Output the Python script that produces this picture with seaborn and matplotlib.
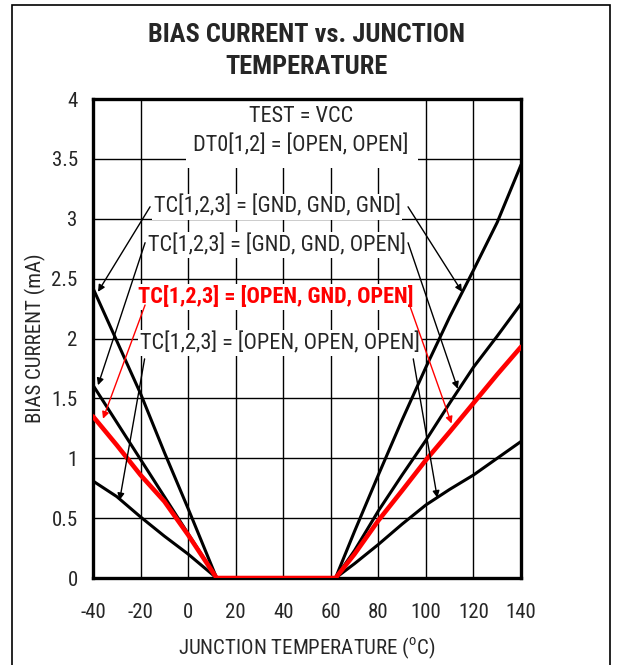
# ==========================================
# BIAS CURRENT vs. JUNCTION TEMPERATURE
# ==========================================

import numpy as np
import pandas as pd
import matplotlib
matplotlib.use('Agg')
import matplotlib.pyplot as plt
import matplotlib.patches as mpatches
import seaborn as sns

# ==========================================
# DATA
# ==========================================

temp = [-40, -30, -20, -10, 0, 12, 62, 70, 80, 90, 100, 110, 120, 130, 140]

gnd_gnd_gnd = [2.42, 1.98, 1.54, 1.05, 0.58, 0, 0, 0.39, 0.86, 1.32, 1.76, 2.18, 2.57, 2.97, 3.45]
gnd_gnd_open = [1.61, 1.30, 0.99, 0.68, 0.37, 0, 0, 0.23, 0.56, 0.86, 1.15, 1.46, 1.76, 2.02, 2.29]
open_gnd_open = [1.35, 1.11, 0.86, 0.64, 0.36, 0, 0, 0.20, 0.48, 0.73, 0.985, 1.22, 1.46, 1.70, 1.93]
open_open_open = [0.81, 0.68, 0.51, 0.35, 0.20, 0, 0, 0.12, 0.28, 0.45, 0.61, 0.74, 0.86, 1.00, 1.14]

labels = [
    'TC[1,2,3] = [GND, GND, GND]',
    'TC[1,2,3] = [GND, GND, OPEN]',
    'TC[1,2,3] = [OPEN, GND, OPEN]',
    'TC[1,2,3] = [OPEN, OPEN, OPEN]',
]

x_ticks = [-40, -20, 0, 20, 40, 60, 80, 100, 120, 140]
y_ticks = [0, 0.5, 1, 1.5, 2, 2.5, 3, 3.5, 4]
y_tick_labels = ['0', '0.5', '1', '1.5', '2', '2.5', '3', '3.5', '4']

# ==========================================
# STYLE
# ==========================================

sns.set_style('white')
plt.rcParams['font.family'] = ['Roboto Condensed', 'Archivo Narrow', 'Liberation Sans', 'DejaVu Sans']
plt.rcParams['axes.unicode_minus'] = False
plt.rcParams['mathtext.fontset'] = 'custom'
plt.rcParams['mathtext.rm'] = 'Roboto Condensed'

fig = plt.figure(figsize=(6.2, 6.65), dpi=100)
ax = fig.add_axes([0.15, 0.1308, 0.6903, 0.7203])

# ==========================================
# CURVES
# ==========================================

df = pd.DataFrame({
    'temp': temp,
    'c1': gnd_gnd_gnd,
    'c2': gnd_gnd_open,
    'c3': open_gnd_open,
    'c4': open_open_open,
})

for col in ['c1', 'c2', 'c4']:
    sns.lineplot(data=df, x='temp', y=col, color='black', lw=2.2, ax=ax, zorder=4)

sns.lineplot(data=df, x='temp', y='c3', color='#ff0000', lw=3.3, ax=ax, zorder=5)

# ==========================================
# AXES
# ==========================================

ax.set_xlim(-40, 140)
ax.set_ylim(0, 4)
ax.set_xticks(x_ticks)
ax.set_yticks(y_ticks)
ax.set_yticklabels(y_tick_labels)
ax.tick_params(length=0, labelsize=15)
ax.tick_params(axis='x', pad=18)
ax.tick_params(axis='y', pad=11)
ax.grid(True, color='black', lw=1.0, zorder=1)
ax.set_axisbelow(True)
for s in ax.spines.values():
    s.set_linewidth(2.4)
    s.set_color('black')

ax.set_xlabel(r'JUNCTION TEMPERATURE ($^{\mathrm{o}}$C)', fontsize=15, labelpad=10)
ax.set_ylabel('BIAS CURRENT (mA)', fontsize=15, labelpad=4)
ax.set_title('BIAS CURRENT vs. JUNCTION\nTEMPERATURE', fontsize=19,
             fontweight='bold', pad=18, linespacing=1.4)

# ==========================================
# ANNOTATIONS
# ==========================================

ax.add_patch(mpatches.Rectangle((-0.9, 3.42), 97.6, 0.58, facecolor='white',
                                edgecolor='none', zorder=2))
ax.text(47.5, 3.85, 'TEST = VCC', ha='center', va='center', fontsize=16, zorder=3)
ax.text(47.5, 3.61, 'DT0[1,2] = [OPEN, OPEN]', ha='center', va='center', fontsize=16, zorder=3)

box = dict(facecolor='white', edgecolor='none', pad=1.5)
ax.text(37.4, 3.10, labels[0], ha='center', va='center', fontsize=16, bbox=box, zorder=3)
ax.text(37.4, 2.78, labels[1], ha='center', va='center', fontsize=16, bbox=box, zorder=3)
ax.text(37.0, 2.35, labels[2], ha='center', va='center', fontsize=16, color='#ff0000',
        fontweight='bold', bbox=box, zorder=3)
ax.text(38.6, 1.96, labels[3], ha='center', va='center', fontsize=16, bbox=box, zorder=3)

arrows = [
    ((-16.0, 3.10), (-37.9, 2.39), 'black'),
    ((92.5, 3.10), (115.2, 2.39), 'black'),
    ((-18.1, 2.80), (-37.9, 1.61), 'black'),
    ((92.5, 2.80), (113.4, 1.58), 'black'),
    ((-18.1, 2.28), (-35.8, 1.33), '#ff0000'),
    ((93.3, 2.27), (110.8, 1.29), '#ff0000'),
    ((-18.3, 1.83), (-28.8, 0.65), 'black'),
    ((94.7, 1.83), (104.8, 0.67), 'black'),
]
for start, tip, c in arrows:
    ax.annotate('', xy=tip, xytext=start,
                arrowprops=dict(arrowstyle='-|>', color=c, lw=1.0,
                                mutation_scale=10, shrinkA=0, shrinkB=0),
                zorder=6)

# outer frame
fig.patches.append(mpatches.Rectangle((12 / 620, -0.05), 598 / 620, 1.05 - 5 / 665,
                                      transform=fig.transFigure, fill=False,
                                      edgecolor='black', lw=1.2))

fig.savefig('out.png', dpi=100)
